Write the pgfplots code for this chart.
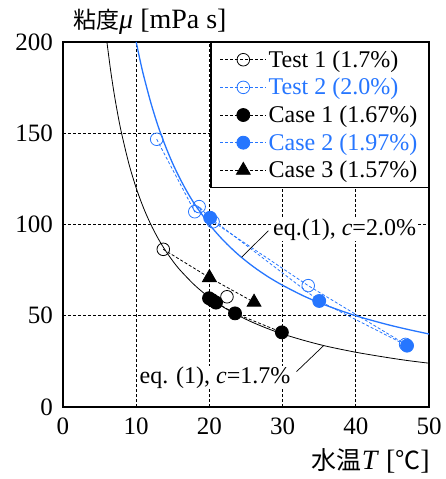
\documentclass[border=0pt]{standalone}
\usepackage{fontspec}
\setmainfont{Liberation Serif}
\newfontfamily\cjk{Noto Sans CJK JP}
\usepackage{pgfplots}
\pgfplotsset{compat=1.18}
\definecolor{cblue}{RGB}{38,118,255}
\newcommand\bigf{\fontsize{24}{26}\selectfont}
\newcommand\tickf{\fontsize{25}{27}\selectfont}
\newcommand\labf{\fontsize{28}{30}\selectfont}
\pgfplotsset{
    dl/.style={line width=0.8pt, dash pattern=on 3pt off 2pt},
    longleg/.style={legend image code/.code={%
        \draw[mark repeat=2,mark phase=2,##1] plot coordinates {(0pt,0pt) (23pt,0pt) (46pt,0pt)};}},
    dashleg/.style={legend image code/.code={%
        \draw[black, line width=0.8pt, dash pattern=on 3pt off 2pt] (0pt,0pt) -- (46pt,0pt);
        \draw[mark repeat=2,mark phase=2,##1] plot coordinates {(0pt,0pt) (23pt,0pt) (46pt,0pt)};}},
}

\begin{document}
\begin{tikzpicture}
\path[use as bounding box] (-63pt,-72pt) rectangle (383pt,407pt);
\begin{axis}[
    at={(0pt,0pt)}, anchor=south west,
    scale only axis, width=366pt, height=365pt,
    xmin=0, xmax=50, ymin=0, ymax=200,
    xtick={0,10,...,50}, ytick={0,50,...,200},
    major tick length=0pt,
    grid=major,
    grid style={black, line width=0.7pt, dash pattern=on 3pt off 2pt},
    axis line style={black, line width=1.3pt},
    tick label style={font=\tickf, inner sep=0pt},
    /pgf/number format/assume math mode=true,
    xticklabel style={yshift=-11pt},
    yticklabel style={xshift=-10pt},
    clip=false,
    longleg,
    legend cell align=left,
    legend style={at={(rel axis cs:1,1)}, anchor=north east,
        draw=black, line width=1.3pt, fill=white, font=\bigf,
        inner xsep=9pt, inner ysep=7pt, row sep=7.5pt,
        nodes={inner xsep=2pt, inner ysep=1pt},
        /tikz/every even column/.append style={column sep=3pt}},
]
% eq.(1) curves
\addplot[black, line width=0.8pt, smooth, forget plot] coordinates {
    (6.0,200) (6.5,184.6) (7,171.4) (7.5,160) (8,150) (9,133.3) (10,120)
    (11,109.1) (12,100) (13,92.3) (14,85.7) (15,80) (16,75) (18,66.7)
    (20,60) (22,54.5) (24,50) (26,46.2) (28,42.9) (30,40) (33,36.4)
    (36,33.3) (40,30) (44,27.3) (47,25.5) (50,24)};
\addplot[cblue, line width=1.3pt, smooth, forget plot] coordinates {
    (10,200) (10.5,190.5) (11,181.8) (12,166.7) (13,153.8) (14,142.9)
    (15,133.3) (16,125) (17,117.6) (18,111.1) (20,100) (22,90.9) (24,83.3)
    (26,76.9) (28,71.4) (30,66.7) (33,60.6) (36,55.6) (40,50) (44,45.5)
    (47,42.6) (50,40)};

% Test 1
\addplot[black, dl, forget plot] coordinates {(13.7,86.4) (20.0,70.9)};
\addplot[black, line width=0.8pt, only marks, mark=o, mark size=6.3pt,
    mark options={fill=white}, dashleg]
    coordinates {(13.7,86.4) (22.4,60.4)};
\addlegendentry{Test 1 (1.7\%)}

% Test 2
\addplot[cblue, dl, mark=o, mark size=6.3pt, mark options={solid, fill=white}]
    coordinates {(12.8,146.7) (18.0,107.0) (18.6,109.8) (20.5,101.5) (33.5,66.5) (46.8,34.3)};
\addlegendentry[text=cblue]{Test 2 (2.0\%)}

% Case 1
\addplot[black, dl, mark=*, mark size=6.5pt, mark options={solid}]
    coordinates {(19.95,59.6) (20.4,58.5) (20.9,57.2) (23.5,51.3) (29.9,40.9)};
\addlegendentry{Case 1 (1.67\%)}

% Case 2
\addplot[cblue, dl, mark=*, mark size=6.5pt, mark options={solid}]
    coordinates {(20.1,103.7) (35.0,58.1) (47.0,33.6)};
\addlegendentry[text=cblue]{Case 2 (1.97\%)}

% Case 3
\addplot[black, dl, mark=triangle*, mark size=8pt, mark options={solid}]
    coordinates {(20.0,70.9) (26.1,57.4)};
\addlegendentry{Case 3 (1.57\%)}

% annotations
\draw[black, line width=0.7pt] (axis cs:28.05,96.6) -- (axis cs:24.4,82.0);
\node[anchor=base west, fill=white, inner sep=1pt, font=\bigf] at (axis cs:28.55,94.2) {eq.(1), \textit{c}=2.0\%};
\draw[black, line width=0.7pt] (axis cs:31.9,19.4) -- (axis cs:35.6,33.6);
\node[anchor=base west, fill=white, inner sep=1pt, font=\bigf] at (axis cs:10.3,13.0) {eq. (1), \textit{c}=1.7\%};

% axis labels
\node[anchor=base west, inner sep=0pt] at (rel axis cs:0,1) [xshift=10pt, yshift=13.5pt]
    {{\cjk\fontsize{23}{26}\selectfont 粘度}{\labf\textit{μ} [mPa s]}};
\node[anchor=base east, inner sep=0pt] at (rel axis cs:1,0) [xshift=1pt, yshift=-62pt]
    {{\cjk\fontsize{25}{27}\selectfont 水温}{\labf\textit{T} [{\cjk\fontsize{25}{27}\selectfont ℃}]}};
\end{axis}
\end{tikzpicture}
\end{document}
